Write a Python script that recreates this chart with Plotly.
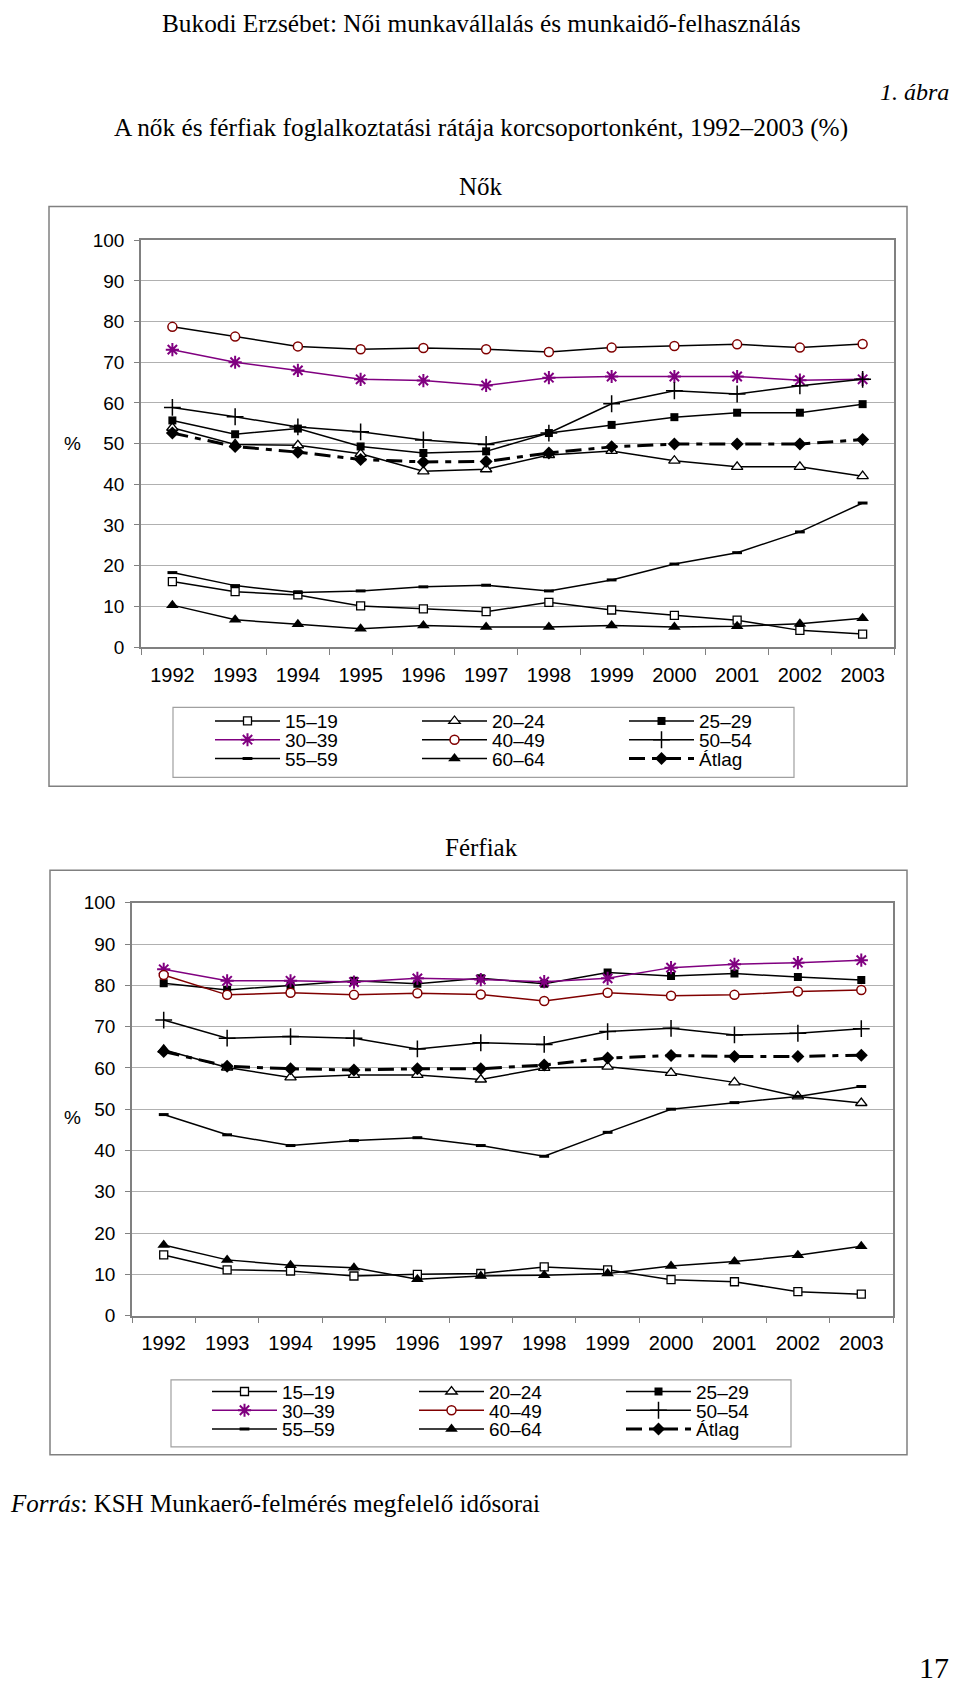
import plotly.graph_objects as go

years = ['1992', '1993', '1994', '1995', '1996', '1997', '1998', '1999', '2000', '2001', '2002', '2003']
y_ticks = [0, 10, 20, 30, 40, 50, 60, 70, 80, 90, 100]
series_names = ['15–19', '20–24', '25–29', '30–39', '40–49', '50–54', '55–59', '60–64', 'Átlag']

# Nők (women)
nok_15_19 = [16.1, 13.6, 12.8, 10.1, 9.4, 8.7, 11.0, 9.1, 7.8, 6.6, 4.1, 3.2]
nok_20_24 = [53.9, 49.8, 49.6, 47.5, 43.2, 43.7, 47.2, 48.2, 45.8, 44.3, 44.3, 42.0]
nok_25_29 = [55.7, 52.3, 53.7, 49.3, 47.7, 48.1, 52.6, 54.6, 56.5, 57.6, 57.6, 59.7]
nok_30_39 = [73.1, 70.0, 68.0, 65.8, 65.5, 64.3, 66.2, 66.5, 66.5, 66.5, 65.6, 65.8]
nok_40_49 = [78.7, 76.3, 73.9, 73.2, 73.5, 73.2, 72.5, 73.6, 74.0, 74.4, 73.6, 74.5]
nok_50_54 = [58.9, 56.6, 54.1, 52.9, 50.9, 49.8, 52.6, 59.8, 63.0, 62.2, 64.2, 65.8]
nok_55_59 = [18.3, 15.1, 13.4, 13.8, 14.8, 15.2, 13.8, 16.5, 20.4, 23.2, 28.3, 35.4]
nok_60_64 = [10.3, 6.7, 5.6, 4.5, 5.3, 4.9, 4.9, 5.3, 4.9, 5.1, 5.7, 7.1]
nok_atlag = [52.6, 49.3, 47.9, 46.1, 45.5, 45.6, 47.7, 49.2, 49.9, 49.9, 49.9, 51.0]

# Férfiak (men)
ffi_15_19 = [14.7, 11.1, 10.8, 9.6, 10.0, 10.2, 11.8, 11.1, 8.7, 8.2, 5.8, 5.2]
ffi_20_24 = [64.4, 60.1, 57.7, 58.3, 58.3, 57.2, 60.0, 60.3, 58.8, 56.5, 53.1, 51.5]
ffi_25_29 = [80.5, 78.9, 80.0, 81.1, 80.4, 81.7, 80.4, 83.1, 82.3, 82.9, 82.0, 81.3]
ffi_30_39 = [83.9, 81.1, 81.1, 80.8, 81.7, 81.4, 80.9, 81.7, 84.3, 85.1, 85.5, 86.1]
ffi_40_49 = [82.5, 77.7, 78.2, 77.7, 78.1, 77.8, 76.2, 78.2, 77.5, 77.7, 78.5, 78.9]
ffi_50_54 = [71.6, 67.2, 67.6, 67.2, 64.6, 66.1, 65.7, 68.8, 69.6, 68.0, 68.4, 69.5]
ffi_55_59 = [48.7, 43.8, 41.2, 42.4, 43.1, 41.2, 38.6, 44.4, 50.0, 51.6, 53.1, 55.5]
ffi_60_64 = [17.1, 13.5, 12.2, 11.6, 8.8, 9.6, 9.8, 10.2, 12.0, 13.1, 14.6, 16.8]
ffi_atlag = [64.0, 60.4, 59.8, 59.5, 59.8, 59.8, 60.7, 62.4, 63.0, 62.8, 62.8, 63.1]

# The page body adds an 8px margin; lay out in page pixels and compensate,
# keeping the figure inside the 960x1699 window.
OFF = 8
W, H = 960 - 2 * OFF, 1699 - 2 * OFF


def xp(px):
    return (px - OFF) / W


def yp(py):
    return 1 - (py - OFF) / H


PURPLE = '#800080'
DARKRED = '#800000'
BLACK = '#000000'
SANS = 'Liberation Sans, Arial, sans-serif'
SERIF = 'Liberation Serif, Times New Roman, serif'


def styles(red_line):
    return [
        dict(line=dict(color=BLACK, width=1.5), marker=dict(symbol='square', size=8, color='white', line=dict(color=BLACK, width=1.3))),
        dict(line=dict(color=BLACK, width=1.5), marker=dict(symbol='triangle-up', size=10, color='white', line=dict(color=BLACK, width=1.3))),
        dict(line=dict(color=BLACK, width=1.5), marker=dict(symbol='square', size=8, color=BLACK)),
        dict(line=dict(color=PURPLE, width=1.5), marker=dict(symbol='asterisk-open', size=11, color=PURPLE, line=dict(color=PURPLE, width=2))),
        dict(line=dict(color=DARKRED if red_line else BLACK, width=1.5), marker=dict(symbol='circle', size=9, color='white', line=dict(color=DARKRED, width=1.5))),
        dict(line=dict(color=BLACK, width=1.5), marker=dict(symbol='cross-thin-open', size=12, color=BLACK, line=dict(color=BLACK, width=1.5))),
        dict(line=dict(color=BLACK, width=1.5), marker=dict(symbol='line-ew-open', size=7, color=BLACK, line=dict(color=BLACK, width=3))),
        dict(line=dict(color=BLACK, width=1.5), marker=dict(symbol='triangle-up', size=11, color=BLACK)),
        dict(line=dict(color=BLACK, width=3, dash='16px,7px,6px,7px'), marker=dict(symbol='diamond', size=10, color=BLACK)),
    ]


fig = go.Figure()

nok_data = [nok_15_19, nok_20_24, nok_25_29, nok_30_39, nok_40_49, nok_50_54, nok_55_59, nok_60_64, nok_atlag]
ffi_data = [ffi_15_19, ffi_20_24, ffi_25_29, ffi_30_39, ffi_40_49, ffi_50_54, ffi_55_59, ffi_60_64, ffi_atlag]

top_legends = ['legend', 'legend2', 'legend3']
bot_legends = ['legend4', 'legend5', 'legend6']

for i, (name, vals, st) in enumerate(zip(series_names, nok_data, styles(False))):
    fig.add_trace(go.Scatter(x=years, y=vals, name=name, mode='lines+markers',
                             xaxis='x', yaxis='y', legend=top_legends[i // 3], showlegend=True,
                             line=st['line'], marker=st['marker']))
for i, (name, vals, st) in enumerate(zip(series_names, ffi_data, styles(True))):
    fig.add_trace(go.Scatter(x=years, y=vals, name=name, mode='lines+markers',
                             xaxis='x2', yaxis='y2', legend=bot_legends[i // 3], showlegend=True,
                             line=st['line'], marker=st['marker']))

xtickfont = dict(family=SANS, size=20, color='black')
ytickfont = dict(family=SANS, size=19, color='black')


def xaxis_cfg(x0, x1, anchor):
    return dict(domain=[xp(x0), xp(x1)], anchor=anchor, type='category',
                categoryorder='array', categoryarray=years, range=[-0.5, 11.5],
                tickson='boundaries', ticks='outside', ticklen=6, tickcolor='#808080',
                showline=True, linecolor='#808080', linewidth=1.5, mirror=True,
                showgrid=False, zeroline=False, tickfont=xtickfont, ticklabelstandoff=9)


def yaxis_cfg(y_top, y_bot, anchor):
    return dict(domain=[yp(y_bot), yp(y_top)], anchor=anchor, range=[0, 100],
                tickvals=y_ticks, ticks='outside', ticklen=5, tickcolor='#808080',
                showline=True, linecolor='#808080', linewidth=1.5, mirror=True,
                showgrid=True, gridcolor='#b0b0b0', gridwidth=1, zeroline=False,
                tickfont=ytickfont, ticklabelstandoff=6)


def legend_cfg(px, py):
    return dict(orientation='h', x=xp(px), y=yp(py), xanchor='left', yanchor='middle',
                itemwidth=65, entrywidth=127, entrywidthmode='pixels',
                bgcolor='rgba(0,0,0,0)', borderwidth=0,
                font=dict(family=SANS, size=19, color='black'), traceorder='normal')


fig.update_layout(
    width=W, height=H,
    margin=dict(l=0, r=0, t=0, b=0),
    paper_bgcolor='white', plot_bgcolor='white',
    xaxis=xaxis_cfg(141, 894, 'y'),
    yaxis=yaxis_cfg(233, 645, 'x'),
    xaxis2=xaxis_cfg(132, 893, 'y2'),
    yaxis2=yaxis_cfg(904, 1322, 'x2'),
    legend=legend_cfg(210, 720),
    legend2=legend_cfg(210, 739),
    legend3=legend_cfg(210, 758),
    legend4=legend_cfg(207, 1399),
    legend5=legend_cfg(207, 1418),
    legend6=legend_cfg(207, 1437),
    showlegend=True,
)

# Frames around charts and legends
frames = [
    (49, 199, 907, 786, '#808080', 1.5),
    (50, 871, 907, 1463, '#808080', 1.5),
    (173, 706, 794, 777, '#a0a0a0', 1.2),
    (171, 1387, 791, 1455, '#a0a0a0', 1.2),
]
for x0, y0, x1, y1, col, w in frames:
    fig.add_shape(type='rect', xref='paper', yref='paper',
                  x0=xp(x0), x1=xp(x1), y0=yp(y1), y1=yp(y0),
                  line=dict(color=col, width=w), fillcolor='rgba(0,0,0,0)', layer='below')


def note(text, px, py, size, family=SERIF, xanchor='center'):
    fig.add_annotation(text=text, x=xp(px), y=yp(py), xref='paper', yref='paper',
                       xanchor=xanchor, yanchor='middle', showarrow=False,
                       font=dict(family=family, size=size, color='black'))


note('Bukodi Erzsébet: Női munkavállalás és munkaidő-felhasználás', 481, 13, 25.3)
note('<i>1. ábra</i>', 951, 83, 24, xanchor='right')
note('A nők és férfiak foglalkoztatási rátája korcsoportonként, 1992–2003 (%)', 481, 119, 25.3)
note('Nők', 481, 179, 25)
note('Férfiak', 481, 848, 25)
note('%', 72, 439, 19, family=SANS)
note('%', 72, 1121, 19, family=SANS)
note('<i>Forrás</i>: KSH Munkaerő-felmérés megfelelő idősorai', 8, 1512, 25, xanchor='left')
note('17', 951, 1678, 30, xanchor='right')

fig.write_html('out.html')
